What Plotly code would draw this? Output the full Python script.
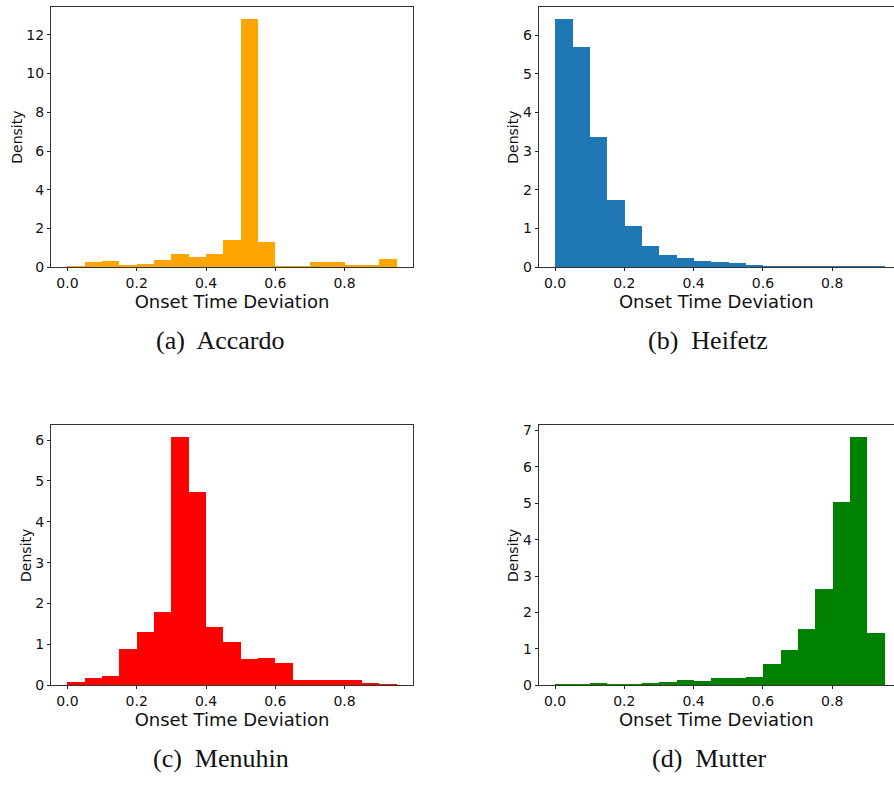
import plotly.graph_objects as go

# ---- data ----
bin_left = [0.00, 0.05, 0.10, 0.15, 0.20, 0.25, 0.30, 0.35, 0.40, 0.45,
            0.50, 0.55, 0.60, 0.65, 0.70, 0.75, 0.80, 0.85, 0.90]
bin_width = 0.05

accardo = [0.03, 0.29, 0.34, 0.14, 0.19, 0.39, 0.69, 0.54, 0.69, 1.41,
           12.80, 1.31, 0.08, 0.03, 0.29, 0.29, 0.14, 0.14, 0.44]
heifetz = [6.41, 5.70, 3.36, 1.75, 1.06, 0.55, 0.32, 0.25, 0.17, 0.14,
           0.12, 0.07, 0.04, 0.04, 0.02, 0.015, 0.015, 0.01, 0.01]
menuhin = [0.07, 0.17, 0.22, 0.89, 1.30, 1.78, 6.06, 4.72, 1.42, 1.06,
           0.63, 0.67, 0.55, 0.12, 0.12, 0.12, 0.12, 0.05, 0.02]
mutter = [0.005, 0.005, 0.05, 0.025, 0.025, 0.05, 0.08, 0.13, 0.11, 0.19,
          0.19, 0.22, 0.59, 0.97, 1.54, 2.65, 5.02, 6.80, 1.43]

x_ticks = [0.0, 0.2, 0.4, 0.6, 0.8]
x_tick_labels = ["0.0", "0.2", "0.4", "0.6", "0.8"]
y_ticks_a = [0, 2, 4, 6, 8, 10, 12]
y_ticks_b = [0, 1, 2, 3, 4, 5, 6]
y_ticks_c = [0, 1, 2, 3, 4, 5, 6]
y_ticks_d = [0, 1, 2, 3, 4, 5, 6, 7]

captions = ["(a)  Accardo", "(b)  Heifetz", "(c)  Menuhin", "(d)  Mutter"]
colors = ["#FFA500", "#1f77b4", "#FF0000", "#008000"]
x_title = "Onset Time Deviation"
y_title = "Density"

# ---- layout geometry (pixels) ----
W, H = 894, 785
panels = [
    dict(vals=accardo, yt=y_ticks_a, x0=51, x1=413, top=4, bot=268, right_spine=True),
    dict(vals=heifetz, yt=y_ticks_b, x0=538.6, x1=894, top=4, bot=268, right_spine=False),
    dict(vals=menuhin, yt=y_ticks_c, x0=51, x1=413, top=428.3, bot=692, right_spine=True),
    dict(vals=mutter, yt=y_ticks_d, x0=538.6, x1=894, top=428.3, bot=692, right_spine=False),
]
cap_pos = [(220, 342), (708, 342), (221, 766), (709, 766)]

fig = go.Figure()
centers = [b + bin_width / 2 for b in bin_left]
px_per_unit = (413 - 51) / (0.9975 + 0.0475)

font_tick = dict(family="DejaVu Sans", size=14, color="#111111")

for i, p in enumerate(panels):
    sfx = "" if i == 0 else str(i + 1)
    xa = "x" + sfx
    ya = "y" + sfx
    fig.add_trace(go.Bar(
        x=centers, y=p["vals"], width=[bin_width] * len(centers),
        marker=dict(color=colors[i], line=dict(width=0)),
        xaxis=xa, yaxis=ya, showlegend=False,
    ))
    xmin = -0.0475
    xmax = xmin + (p["x1"] - p["x0"]) / px_per_unit
    ymax = max(p["vals"]) * 1.05
    fig.layout["xaxis" + sfx] = dict(
        domain=[p["x0"] / W, p["x1"] / W], anchor=ya,
        range=[xmin, xmax], tickvals=x_ticks, ticktext=x_tick_labels,
        ticks="outside", ticklen=3, tickwidth=1, tickcolor="#222222",
        showline=True, linecolor="#333333", linewidth=1, mirror=True,
        showgrid=False, zeroline=False, tickfont=font_tick,
        title=dict(text=x_title, font=dict(family="DejaVu Sans", size=18, color="#111111"), standoff=0),
    )
    fig.layout["yaxis" + sfx] = dict(
        domain=[(H - p["bot"]) / H, (H - p["top"]) / H], anchor=xa,
        range=[0, ymax], tickvals=p["yt"],
        ticks="outside", ticklen=3, tickwidth=1, tickcolor="#222222",
        showline=True, linecolor="#333333", linewidth=1,
        mirror=p["right_spine"],
        showgrid=False, zeroline=False, tickfont=font_tick,
        title=dict(text=y_title, font=dict(family="DejaVu Sans", size=14, color="#111111"), standoff=0),
    )

for (cx, cy), txt in zip(cap_pos, captions):
    fig.add_annotation(
        x=cx / W, y=(H - cy) / H, xref="paper", yref="paper",
        text=txt, showarrow=False, xanchor="center", yanchor="middle",
        font=dict(family="Liberation Serif", size=26, color="#111111"),
    )

fig.update_layout(
    width=W, height=H,
    margin=dict(l=0, r=0, t=0, b=0),
    paper_bgcolor="white", plot_bgcolor="white",
    bargap=0,
)

fig.write_html("out.html")
